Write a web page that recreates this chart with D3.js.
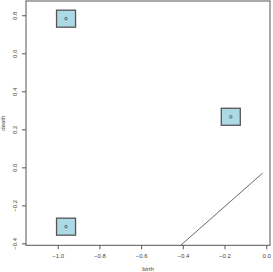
<!DOCTYPE html>
<html>
<head>
<meta charset="utf-8">
<script src="https://cdn.jsdelivr.net/npm/d3@7"></script>
<style>
  body { margin: 0; background: #fff; }
  text { font-family: "Liberation Sans", Arial, sans-serif; fill: #444; }
</style>
</head>
<body>
<div id="chart"></div>
<script>
// persistence points (birth, death)
const births = [-0.96, -0.17, -0.96];
const deaths = [0.782, 0.266, -0.312];
// diagonal segment
const diagBirth = [-0.41, -0.017];
const diagDeath = [-0.41, -0.03];
const xTicks = [-1.0, -0.8, -0.6, -0.4, -0.2, 0.0];
const yTicks = [-0.4, -0.2, 0.0, 0.2, 0.4, 0.6, 0.8];

let width = 273, height = 272;
let plotL = 26, plotR = 270, plotT = 1, plotB = 245.3;

let x = d3.scaleLinear().domain([-1.152, 0.018]).range([plotL, plotR]);
let y = d3.scaleLinear().domain([-0.41, 0.875]).range([plotB, plotT]);

let svg = d3.select("#chart").append("svg").attr("width", width).attr("height", height);

const fmt = v => (v < 0 ? "\u2212" : "") + Math.abs(v).toFixed(1);

// x axis
let gx = svg.append("g").attr("transform", `translate(0,${plotB})`)
    .call(d3.axisBottom(x).tickValues(xTicks).tickSize(4).tickPadding(4).tickFormat(fmt));
gx.select(".domain").remove();
gx.selectAll("line").attr("stroke", "#555");
gx.selectAll("text").attr("font-size", 6).style("fill", "#444");

// y axis
let gy = svg.append("g").attr("transform", `translate(${plotL},0)`)
    .call(d3.axisLeft(y).tickValues(yTicks).tickSize(4).tickFormat(fmt));
gy.select(".domain").remove();
gy.selectAll("line").attr("stroke", "#555");
gy.selectAll("text")
    .attr("font-size", 6).style("fill", "#444")
    .attr("text-anchor", "middle")
    .attr("x", 0).attr("dy", 0)
    .attr("transform", "translate(-9,0) rotate(-90)");

// box
svg.append("rect").attr("x", plotL).attr("y", plotT)
    .attr("width", plotR - plotL).attr("height", plotB - plotT)
    .attr("fill", "none").attr("stroke", "#555").attr("stroke-width", 1);

// diagonal
let line = d3.line().x(d => x(d[0])).y(d => y(d[1]));
svg.append("path").datum(d3.zip(diagBirth, diagDeath))
    .attr("d", line).attr("fill", "none").attr("stroke", "#444").attr("stroke-width", 0.8);

// squares
let pts = d3.zip(births, deaths);
svg.append("g").selectAll("rect").data(pts).join("rect")
    .attr("x", d => x(d[0]) - 9.5).attr("y", d => y(d[1]) - 8.5)
    .attr("width", 19).attr("height", 17)
    .attr("fill", "#add8e6").attr("stroke", "#555").attr("stroke-width", 1.3);
svg.append("g").selectAll("circle").data(pts).join("circle")
    .attr("cx", d => x(d[0])).attr("cy", d => y(d[1])).attr("r", 1.3)
    .attr("fill", "none").attr("stroke", "#333").attr("stroke-width", 0.6);

// axis titles
svg.append("text").text("birth").attr("x", (plotL + plotR) / 2).attr("y", 271)
    .attr("text-anchor", "middle").attr("font-size", 6);
svg.append("text").text("death")
    .attr("transform", `translate(5,${(plotT + plotB) / 2}) rotate(-90)`)
    .attr("text-anchor", "middle").attr("font-size", 6);
</script>
</body>
</html>
